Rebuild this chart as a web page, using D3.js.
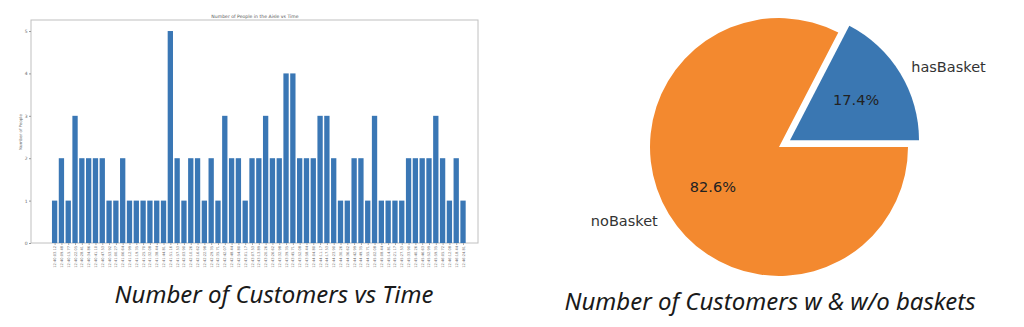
<!DOCTYPE html>
<html><head><meta charset="utf-8">
<script src="https://cdn.jsdelivr.net/npm/d3@7"></script>
<style>html,body{margin:0;padding:0;background:#fff;}svg{display:block;}</style>
</head><body>
<svg id="c" width="1024" height="327"></svg>
<script>
// ---- data ----
const counts = [1,2,1,3,2,2,2,2,1,1,2,1,1,1,1,1,1,5,2,1,2,2,1,2,1,3,2,2,1,2,2,3,2,2,4,4,2,2,2,3,3,2,1,1,2,2,1,3,1,1,1,1,2,2,2,2,3,2,1,2,1];
const times = ["12:40:03.12","12:40:09.48","12:40:15.77","12:40:22.05","12:40:28.41","12:40:34.86","12:40:41.10","12:40:47.53","12:40:53.92","12:41:00.27",
"12:41:06.64","12:41:12.99","12:41:19.35","12:41:25.70","12:41:32.08","12:41:38.44","12:41:44.81","12:41:51.16","12:41:57.53","12:42:03.90",
"12:42:10.26","12:42:16.62","12:42:22.98","12:42:29.35","12:42:35.71","12:42:42.07","12:42:48.44","12:42:54.80","12:43:01.17","12:43:07.53",
"12:43:13.89","12:43:20.26","12:43:26.62","12:43:32.98","12:43:39.35","12:43:45.71","12:43:52.08","12:43:58.44","12:44:04.80","12:44:11.17",
"12:44:17.53","12:44:23.90","12:44:30.26","12:44:36.62","12:44:42.99","12:44:49.35","12:44:55.71","12:45:02.08","12:45:08.44","12:45:14.81",
"12:45:21.17","12:45:27.53","12:45:33.90","12:45:40.26","12:45:46.63","12:45:52.99","12:45:59.35","12:46:05.72","12:46:12.08","12:46:18.44","12:46:24.81"];
const yTicks = [0,1,2,3,4,5];
const pieLabels = ["hasBasket","noBasket"];
const pieValues = [17.4, 82.6];
const pieColors = ["#3a77b2","#f3892f"];

const svg = d3.select("#c");

// ---- bar chart ----
const L=31, T=20, R=478, B=243;
const x = d3.scaleLinear().domain([-3.47, 62.2]).range([L, R]);
const y = d3.scaleLinear().domain([0, 5.26]).range([B, T]);
const bw = (x(1)-x(0))*0.78;

svg.append("rect").attr("x",L).attr("y",T).attr("width",R-L).attr("height",B-T)
  .attr("fill","none").attr("stroke","#c0c0c0").attr("stroke-width",1);

svg.append("g").selectAll("rect").data(counts).join("rect")
  .attr("x",(d,i)=>x(i)-bw/2).attr("width",bw)
  .attr("y",d=>y(d)).attr("height",d=>y(0)-y(d))
  .attr("fill","#3a77b5");

const yAxis = d3.axisLeft(y).tickValues(yTicks).tickSize(2).tickPadding(1.5).tickFormat(d3.format("d"));
const gy = svg.append("g").attr("transform",`translate(${L},0)`).call(yAxis);
gy.select(".domain").remove();
gy.selectAll("line").attr("stroke","#999");
gy.selectAll("text").attr("font-size",4.5).attr("fill","#666").attr("font-family","DejaVu Sans");

const xAxis = d3.axisBottom(x).tickValues(d3.range(counts.length)).tickSize(2).tickFormat(i=>times[i]);
const gx = svg.append("g").attr("transform",`translate(0,${B})`).call(xAxis);
gx.select(".domain").remove();
gx.selectAll("line").attr("stroke","#aaa");
gx.selectAll("text").attr("font-size",3.6).attr("fill","#6a6a6a").attr("font-family","DejaVu Sans")
  .attr("text-anchor","end").attr("dy",0).attr("y",0)
  .attr("transform","translate(0,3) rotate(-90)").attr("dx",0).attr("x",0)
  .attr("dominant-baseline","central");

svg.append("text").attr("x",255).attr("y",18).attr("text-anchor","middle")
  .attr("font-size",4.6).attr("fill","#555").attr("font-family","DejaVu Sans")
  .text("Number of People in the Aisle vs Time");
svg.append("text").attr("transform","translate(22,132) rotate(-90)").attr("text-anchor","middle")
  .attr("font-size",4).attr("fill","#666").attr("font-family","DejaVu Sans")
  .text("Number of People");

svg.append("text").attr("x",274).attr("y",303).attr("text-anchor","middle")
  .attr("font-size",24).attr("font-style","italic").attr("fill","#1a1a1a").attr("font-family","Noto Sans")
  .text("Number of Customers vs Time");

// ---- pie chart ----
const cx=779, cy=147, r=129;
const pie = d3.pie().sort(null).startAngle(Math.PI/2).endAngle(Math.PI/2-2*Math.PI).value(d=>d);
const arcs = pie(pieValues);
const explode = [0.1, 0];
const g = svg.append("g").attr("transform",`translate(${cx},${cy})`);
arcs.forEach((a,i)=>{
  const mid = (a.startAngle+a.endAngle)/2;
  const ox = Math.sin(mid)*explode[i]*r, oy = -Math.cos(mid)*explode[i]*r;
  const gg = g.append("g").attr("transform",`translate(${ox},${oy})`);
  gg.append("path").attr("d",d3.arc().innerRadius(0).outerRadius(r).startAngle(Math.min(a.startAngle,a.endAngle)).endAngle(Math.max(a.startAngle,a.endAngle))()).attr("fill",pieColors[i]);
  const lx = Math.sin(mid)*1.1*r, ly = -Math.cos(mid)*1.1*r;
  gg.append("text").attr("x",lx).attr("y",ly).attr("dominant-baseline","central")
    .attr("text-anchor", lx>0?"start":"end").attr("font-size",14.5).attr("fill","#333")
    .attr("font-family","DejaVu Sans").text(pieLabels[i]);
  const px = Math.sin(mid)*0.6*r, py = -Math.cos(mid)*0.6*r;
  gg.append("text").attr("x",px).attr("y",py).attr("dominant-baseline","central")
    .attr("text-anchor","middle").attr("font-size",14.5).attr("fill","#222")
    .attr("font-family","DejaVu Sans").text(pieValues[i].toFixed(1)+"%");
});

svg.append("text").attr("x",770).attr("y",310).attr("text-anchor","middle")
  .attr("font-size",24).attr("font-style","italic").attr("fill","#1a1a1a").attr("font-family","Noto Sans")
  .text("Number of Customers w & w/o baskets");
</script>
</body></html>
